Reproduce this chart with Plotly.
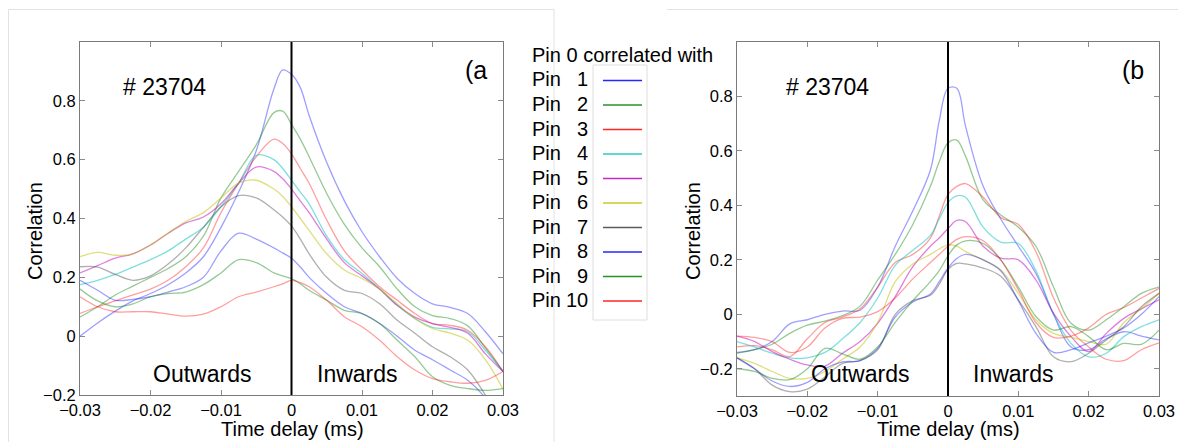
import plotly.graph_objects as go

# ---------------- data ----------------
TIME = [-0.03, -0.0275, -0.025, -0.0225, -0.02, -0.0175, -0.015, -0.0125, -0.01,
        -0.0075, -0.005, -0.0025, -0.00125, 0.0, 0.00125, 0.0025, 0.005, 0.0075,
        0.01, 0.0125, 0.015, 0.0175, 0.02, 0.0225, 0.025, 0.0275, 0.03]

PIN_LABELS = ["1", "2", "3", "4", "5", "6", "7", "8", "9", "10"]

# panel (a)
a_pin1 = [0.0, 0.045, 0.085, 0.12, 0.145, 0.175, 0.215, 0.27, 0.37, 0.49, 0.63, 0.84, 0.905, 0.89, 0.845, 0.75, 0.59, 0.46, 0.355, 0.27, 0.196, 0.145, 0.11, 0.098, 0.077, 0.015, -0.06]
a_pin2 = [0.065, 0.1, 0.14, 0.17, 0.2, 0.23, 0.27, 0.34, 0.47, 0.56, 0.65, 0.76, 0.765, 0.72, 0.67, 0.61, 0.485, 0.38, 0.30, 0.236, 0.16, 0.10, 0.07, 0.06, 0.035, -0.04, -0.12]
a_pin3 = [0.077, 0.1, 0.12, 0.14, 0.16, 0.19, 0.236, 0.30, 0.42, 0.52, 0.61, 0.67, 0.655, 0.62, 0.57, 0.52, 0.395, 0.29, 0.225, 0.168, 0.122, 0.077, 0.043, 0.037, 0.02, -0.036, -0.12]
a_pin4 = [0.175, 0.19, 0.21, 0.235, 0.26, 0.29, 0.33, 0.37, 0.44, 0.52, 0.615, 0.60, 0.57, 0.53, 0.49, 0.45, 0.34, 0.26, 0.213, 0.16, 0.105, 0.06, 0.03, 0.025, 0.015, -0.048, -0.12]
a_pin5 = [0.215, 0.24, 0.265, 0.28, 0.31, 0.35, 0.385, 0.405, 0.45, 0.52, 0.575, 0.56, 0.535, 0.5, 0.46, 0.42, 0.33, 0.25, 0.205, 0.16, 0.105, 0.065, 0.043, 0.03, 0.01, -0.06, -0.12]
a_pin6 = [0.27, 0.285, 0.275, 0.28, 0.31, 0.35, 0.39, 0.42, 0.47, 0.52, 0.53, 0.5, 0.475, 0.44, 0.40, 0.36, 0.28, 0.225, 0.196, 0.16, 0.11, 0.06, 0.026, 0.01, -0.014, -0.08, -0.18]
a_pin7 = [0.236, 0.235, 0.21, 0.19, 0.205, 0.245, 0.30, 0.37, 0.44, 0.478, 0.47, 0.43, 0.405, 0.375, 0.33, 0.28, 0.2, 0.156, 0.145, 0.11, 0.054, 0.01, -0.036, -0.07, -0.115, -0.2, -0.3]
a_pin8 = [0.19, 0.156, 0.122, 0.125, 0.134, 0.15, 0.168, 0.2, 0.29, 0.35, 0.33, 0.30, 0.283, 0.265, 0.235, 0.2, 0.145, 0.1, 0.077, 0.043, 0.0, -0.048, -0.08, -0.115, -0.15, -0.21, -0.3]
a_pin9 = [0.16, 0.12, 0.1, 0.11, 0.134, 0.145, 0.15, 0.175, 0.215, 0.26, 0.25, 0.215, 0.205, 0.196, 0.178, 0.156, 0.122, 0.088, 0.077, 0.043, -0.014, -0.07, -0.138, -0.167, -0.178, -0.184, -0.178]
a_pin10 = [0.134, 0.1, 0.083, 0.083, 0.083, 0.075, 0.068, 0.075, 0.1, 0.134, 0.15, 0.168, 0.178, 0.19, 0.182, 0.168, 0.122, 0.066, 0.032, -0.014, -0.07, -0.115, -0.144, -0.155, -0.16, -0.15, -0.12]

# panel (b)
b_pin1 = [-0.14, -0.13, -0.1, -0.035, -0.02, 0.0, 0.012, 0.015, 0.1, 0.25, 0.38, 0.53, 0.71, 0.83, 0.83, 0.69, 0.47, 0.35, 0.25, 0.15, 0.0, -0.12, -0.13, -0.09, -0.064, -0.08, -0.094]
b_pin2 = [-0.143, -0.13, -0.11, -0.07, -0.04, -0.025, -0.005, 0.03, 0.126, 0.22, 0.33, 0.47, 0.56, 0.63, 0.64, 0.58, 0.42, 0.365, 0.32, 0.25, 0.1, -0.033, -0.058, -0.02, 0.028, 0.077, 0.10]
b_pin3 = [-0.12, -0.115, -0.13, -0.155, -0.09, -0.03, -0.01, 0.02, 0.1, 0.19, 0.22, 0.28, 0.36, 0.44, 0.47, 0.48, 0.43, 0.355, 0.33, 0.23, 0.06, -0.06, -0.12, -0.165, -0.17, -0.13, -0.105]
b_pin4 = [-0.1, -0.12, -0.143, -0.16, -0.16, -0.14, -0.09, -0.03, 0.06, 0.18, 0.235, 0.29, 0.35, 0.41, 0.435, 0.43, 0.32, 0.265, 0.26, 0.16, 0.0, -0.107, -0.156, -0.143, -0.082, -0.045, -0.02]
b_pin5 = [-0.08, -0.1, -0.137, -0.165, -0.186, -0.19, -0.143, -0.1, -0.033, 0.065, 0.175, 0.25, 0.28, 0.315, 0.345, 0.34, 0.25, 0.206, 0.2, 0.126, 0.004, -0.082, -0.137, -0.07, -0.015, 0.02, 0.053]
b_pin6 = [-0.16, -0.18, -0.21, -0.235, -0.235, -0.21, -0.165, -0.12, -0.03, 0.12, 0.185, 0.22, 0.24, 0.255, 0.25, 0.23, 0.2, 0.163, 0.077, -0.02, -0.07, -0.085, -0.1, -0.11, -0.03, 0.02, 0.077]
b_pin7 = [-0.16, -0.2, -0.26, -0.284, -0.275, -0.23, -0.18, -0.17, -0.13, 0.0, 0.05, 0.07, 0.11, 0.165, 0.187, 0.185, 0.17, 0.14, 0.053, -0.045, -0.156, -0.174, -0.143, -0.094, -0.045, 0.028, 0.077]
b_pin8 = [-0.16, -0.2, -0.245, -0.265, -0.25, -0.2, -0.175, -0.17, -0.125, -0.01, 0.045, 0.075, 0.12, 0.17, 0.205, 0.22, 0.2, 0.16, 0.05, -0.07, -0.14, -0.13, -0.105, -0.08, -0.05, 0.0, 0.065]
b_pin9 = [-0.2, -0.21, -0.235, -0.24, -0.2, -0.125, -0.145, -0.165, -0.12, -0.03, 0.05, 0.12, 0.16, 0.215, 0.255, 0.27, 0.26, 0.2, 0.1, -0.008, -0.058, -0.045, -0.082, -0.13, -0.107, -0.11, -0.058]
b_pin10 = [-0.08, -0.085, -0.1, -0.14, -0.12, -0.05, -0.015, -0.01, 0.01, 0.06, 0.13, 0.19, 0.22, 0.25, 0.275, 0.285, 0.27, 0.2, 0.09, -0.03, -0.085, -0.08, -0.05, 0.0, 0.025, 0.06, 0.095]

X_TICKS = [-0.03, -0.02, -0.01, 0, 0.01, 0.02, 0.03]
X_TICK_TEXT = ["\u22120.03", "\u22120.02", "\u22120.01", "0", "0.01", "0.02", "0.03"]
Y_TICKS = [-0.2, 0, 0.2, 0.4, 0.6, 0.8]
Y_TICK_TEXT = ["\u22120.2", "0", "0.2", "0.4", "0.6", "0.8"]

PANEL_A = [a_pin1, a_pin2, a_pin3, a_pin4, a_pin5, a_pin6, a_pin7, a_pin8, a_pin9, a_pin10]
PANEL_B = [b_pin1, b_pin2, b_pin3, b_pin4, b_pin5, b_pin6, b_pin7, b_pin8, b_pin9, b_pin10]

# ---------------- styling ----------------
BASE_RGB = [(0, 0, 255), (0, 128, 0), (255, 0, 0), (0, 191, 191), (191, 0, 191),
            (191, 191, 0), (64, 64, 64), (0, 0, 255), (0, 128, 0), (255, 0, 0)]
LINE_ALPHA = [0.38, 0.42, 0.38, 0.5, 0.5, 0.5, 0.42, 0.38, 0.42, 0.38]
FONT = "Liberation Sans, Arial, Helvetica, sans-serif"
PAGE_PAD = 8            # default body margin of the html page
W, H = 1186 - 2 * PAGE_PAD, 442 - PAGE_PAD


def px(x):
    """screen pixel x -> paper fraction"""
    return (x - PAGE_PAD) / W


def py(y):
    """screen pixel y (from top) -> paper fraction"""
    return 1 - (y - PAGE_PAD) / H


fig = go.Figure()
for series, xa, ya in ((PANEL_A, "x", "y"), (PANEL_B, "x2", "y2")):
    for i, vals in enumerate(series):
        r, g, b = BASE_RGB[i]
        fig.add_trace(go.Scatter(
            x=TIME, y=vals, xaxis=xa, yaxis=ya, mode="lines",
            line=dict(color=f"rgba({r},{g},{b},{LINE_ALPHA[i]})", width=1.3,
                      shape="spline", smoothing=1.0),
            name=f"Pin {PIN_LABELS[i]}", showlegend=False, hoverinfo="skip"))

axis_common = dict(showline=True, linecolor="#7a7a7a", linewidth=1, mirror="ticks",
                   ticks="inside", ticklen=5, tickcolor="#8a8a8a", showgrid=False,
                   zeroline=False, automargin=False,
                   tickfont=dict(family=FONT, size=16.5, color="black"))

fig.update_layout(
    template="none",
    width=W, height=H, autosize=False,
    margin=dict(l=0, r=0, t=0, b=0, autoexpand=False),
    paper_bgcolor="white", plot_bgcolor="white",
    font=dict(family=FONT, color="black"),
    showlegend=False,
    xaxis=dict(domain=[px(80), px(503)], range=[-0.03, 0.03], anchor="y",
               tickvals=X_TICKS, ticktext=X_TICK_TEXT, **axis_common),
    yaxis=dict(domain=[py(395), py(42)], range=[-0.2, 1.0], anchor="x",
               tickvals=Y_TICKS, ticktext=Y_TICK_TEXT, **axis_common),
    xaxis2=dict(domain=[px(737), px(1159)], range=[-0.03, 0.03], anchor="y2",
                tickvals=X_TICKS, ticktext=X_TICK_TEXT, **axis_common),
    yaxis2=dict(domain=[py(396), py(42)], range=[-0.3, 1.0], anchor="x2",
                tickvals=Y_TICKS, ticktext=Y_TICK_TEXT, **axis_common),
)

shapes = []
# black zero-delay lines
for xr, yr in (("x", "y domain"), ("x2", "y2 domain")):
    shapes.append(dict(type="line", xref=xr, yref=yr, x0=0, x1=0, y0=0, y1=1,
                       line=dict(color="black", width=2)))
# light page frames
shapes.append(dict(type="path", xref="paper", yref="paper",
                   path=f"M {px(8.5)},{py(460)} L {px(8.5)},{py(9.5)} L {px(554)},{py(9.5)} L {px(554)},{py(460)}",
                   line=dict(color="#e2e2e2", width=1)))
shapes.append(dict(type="line", xref="paper", yref="paper", x0=px(667), x1=px(1200), y0=py(9.5), y1=py(9.5),
                   line=dict(color="#e2e2e2", width=1)))
# legend box
shapes.append(dict(type="rect", xref="paper", yref="paper", x0=px(593), x1=px(647), y0=py(320), y1=py(65),
                   line=dict(color="#dedede", width=1)))

annotations = []


def text(x, y, s, size, xanchor="left", angle=0):
    annotations.append(dict(xref="paper", yref="paper", x=px(x), y=py(y), text=s, showarrow=False,
                            xanchor=xanchor, yanchor="middle", textangle=angle,
                            font=dict(family=FONT, size=size, color="black")))


# legend
text(530, 55, "Pin 0 correlated with", 20)
for i, lab in enumerate(PIN_LABELS):
    yy = 79.5 + 24.5 * i
    text(530, yy, "Pin", 20)
    text(590, yy, lab, 20, xanchor="right")
    r, g, b = BASE_RGB[i]
    shapes.append(dict(type="line", xref="paper", yref="paper", x0=px(603), x1=px(642), y0=py(yy + 1), y1=py(yy + 1),
                       line=dict(color=f"rgba({r},{g},{b},0.85)", width=1.6)))

# panel texts
text(121, 87, "# 23704", 23)
text(784, 87, "# 23704", 23)
text(463, 70, "(a", 25)
text(1120, 70, "(b", 25)
text(151, 374, "Outwards", 23)
text(315, 374, "Inwards", 23)
text(809, 374, "Outwards", 23)
text(971, 374, "Inwards", 23)
# axis titles
text(292, 429, "Time delay (ms)", 20, xanchor="center")
text(948, 429, "Time delay (ms)", 20, xanchor="center")
text(35, 231, "Correlation", 20, xanchor="center", angle=-90)
text(693, 231, "Correlation", 20, xanchor="center", angle=-90)

fig.update_layout(shapes=shapes, annotations=annotations)
fig.write_html("out.html")
